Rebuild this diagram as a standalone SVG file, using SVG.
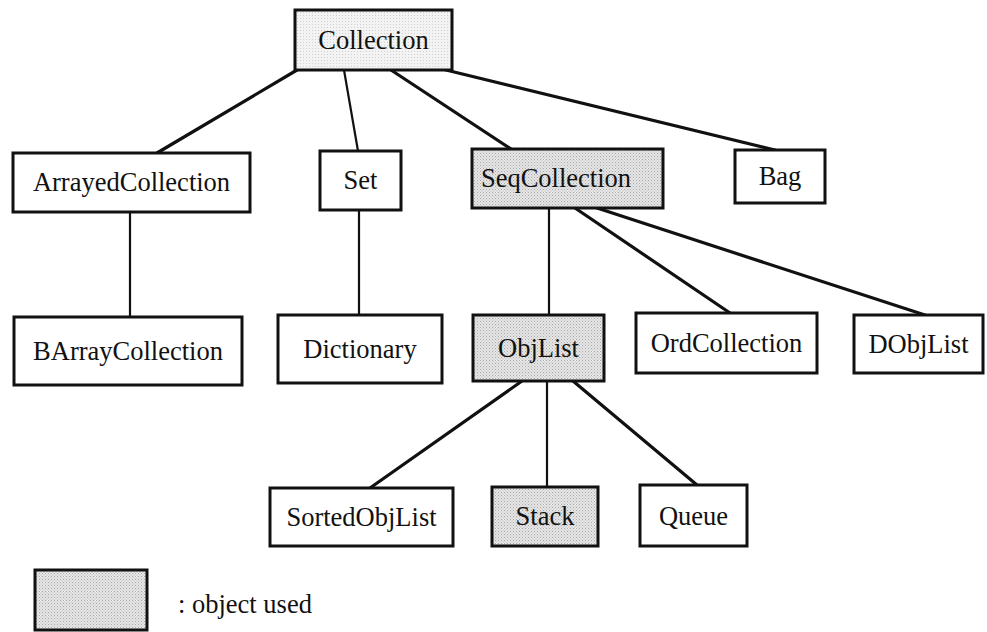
<svg xmlns="http://www.w3.org/2000/svg" width="987" height="632" viewBox="0 0 987 632">
  <defs>
    <!-- stipple fill for classes that are used -->
    <pattern id="stipple" width="3" height="3" patternUnits="userSpaceOnUse">
      <rect width="3" height="3" fill="#e6e6e6"/>
      <rect x="0" y="0" width="1" height="1" fill="#a9a9a9"/>
      <rect x="1.5" y="1.5" width="1" height="1" fill="#b9b9b9"/>
    </pattern>
    <pattern id="stipple-light" width="3" height="3" patternUnits="userSpaceOnUse">
      <rect width="3" height="3" fill="#f3f3f3"/>
      <rect x="0" y="0" width="1" height="1" fill="#d0d0d0"/>
    </pattern>
  </defs>
  <style>
    .box { fill: #ffffff; stroke: #111111; stroke-width: 3; }
    .used { fill: url(#stipple); }
    .faint { fill: url(#stipple-light); }
    text { font-family: 'Liberation Serif', 'Times New Roman', serif; font-size: 26.5px; fill: #111111; text-anchor: middle; }
    .edge { stroke: #111111; stroke-width: 3.2; fill: none; stroke-linecap: round; }
    .thin { stroke-width: 2.2; }
  </style>
  <rect width="987" height="632" fill="#ffffff"/>

  <!-- inheritance links -->
  <g id="connectors">
    <line class="edge" x1="297" y1="70" x2="157" y2="153"/>
    <line class="edge thin" x1="344" y1="70" x2="358" y2="151"/>
    <line class="edge" x1="391" y1="70" x2="511" y2="149"/>
    <line class="edge" x1="446" y1="70" x2="775" y2="150"/>
    <line class="edge thin" x1="130" y1="212" x2="130" y2="317"/>
    <line class="edge thin" x1="359" y1="210" x2="359" y2="315"/>
    <line class="edge thin" x1="549" y1="208" x2="549" y2="315"/>
    <line class="edge" x1="575" y1="208" x2="730" y2="313"/>
    <line class="edge" x1="597" y1="208" x2="925" y2="315"/>
    <line class="edge" x1="522" y1="381" x2="370" y2="488"/>
    <line class="edge thin" x1="547" y1="381" x2="547" y2="487"/>
    <line class="edge" x1="573" y1="381" x2="697" y2="485"/>
  </g>

  <g id="collection">
    <rect class="box faint" x="295" y="10" width="157" height="60"/>
    <text x="373.5" y="49" font-family="Liberation Serif, serif">Collection</text>
  </g>
  <g id="arrayed-collection">
    <rect class="box" x="13" y="153" width="237" height="59"/>
    <text x="131.5" y="191" font-family="Liberation Serif, serif">ArrayedCollection</text>
  </g>
  <g id="set">
    <rect class="box" x="320" y="151" width="81" height="59"/>
    <text x="360.5" y="189" font-family="Liberation Serif, serif">Set</text>
  </g>
  <g id="seq-collection">
    <rect class="box used" x="472" y="149" width="191" height="59"/>
    <text x="556" y="187" font-family="Liberation Serif, serif">SeqCollection</text>
  </g>
  <g id="bag">
    <rect class="box" x="735" y="150" width="90" height="53"/>
    <text x="780" y="185" font-family="Liberation Serif, serif">Bag</text>
  </g>
  <g id="barray-collection">
    <rect class="box" x="14" y="317" width="228" height="68"/>
    <text x="128" y="360" font-family="Liberation Serif, serif">BArrayCollection</text>
  </g>
  <g id="dictionary">
    <rect class="box" x="278" y="315" width="164" height="68"/>
    <text x="360" y="358" font-family="Liberation Serif, serif">Dictionary</text>
  </g>
  <g id="obj-list">
    <rect class="box used" x="473" y="315" width="131" height="66"/>
    <text x="538.5" y="357" font-family="Liberation Serif, serif">ObjList</text>
  </g>
  <g id="ord-collection">
    <rect class="box" x="636" y="313" width="181" height="60"/>
    <text x="726.5" y="352" font-family="Liberation Serif, serif">OrdCollection</text>
  </g>
  <g id="dobj-list">
    <rect class="box" x="854" y="315" width="129" height="58"/>
    <text x="918.5" y="353" font-family="Liberation Serif, serif">DObjList</text>
  </g>
  <g id="sorted-obj-list">
    <rect class="box" x="270" y="488" width="183" height="58"/>
    <text x="361.5" y="526" font-family="Liberation Serif, serif">SortedObjList</text>
  </g>
  <g id="stack">
    <rect class="box used" x="492" y="487" width="106" height="59"/>
    <text x="545" y="525" font-family="Liberation Serif, serif">Stack</text>
  </g>
  <g id="queue">
    <rect class="box" x="640" y="485" width="107" height="61"/>
    <text x="693.5" y="525" font-family="Liberation Serif, serif">Queue</text>
  </g>

  <g id="legend">
    <rect class="box used" x="35" y="570" width="112" height="60"/>
    <text x="178" y="613" font-family="Liberation Serif, serif" style="text-anchor: start">: object used</text>
  </g>
</svg>
